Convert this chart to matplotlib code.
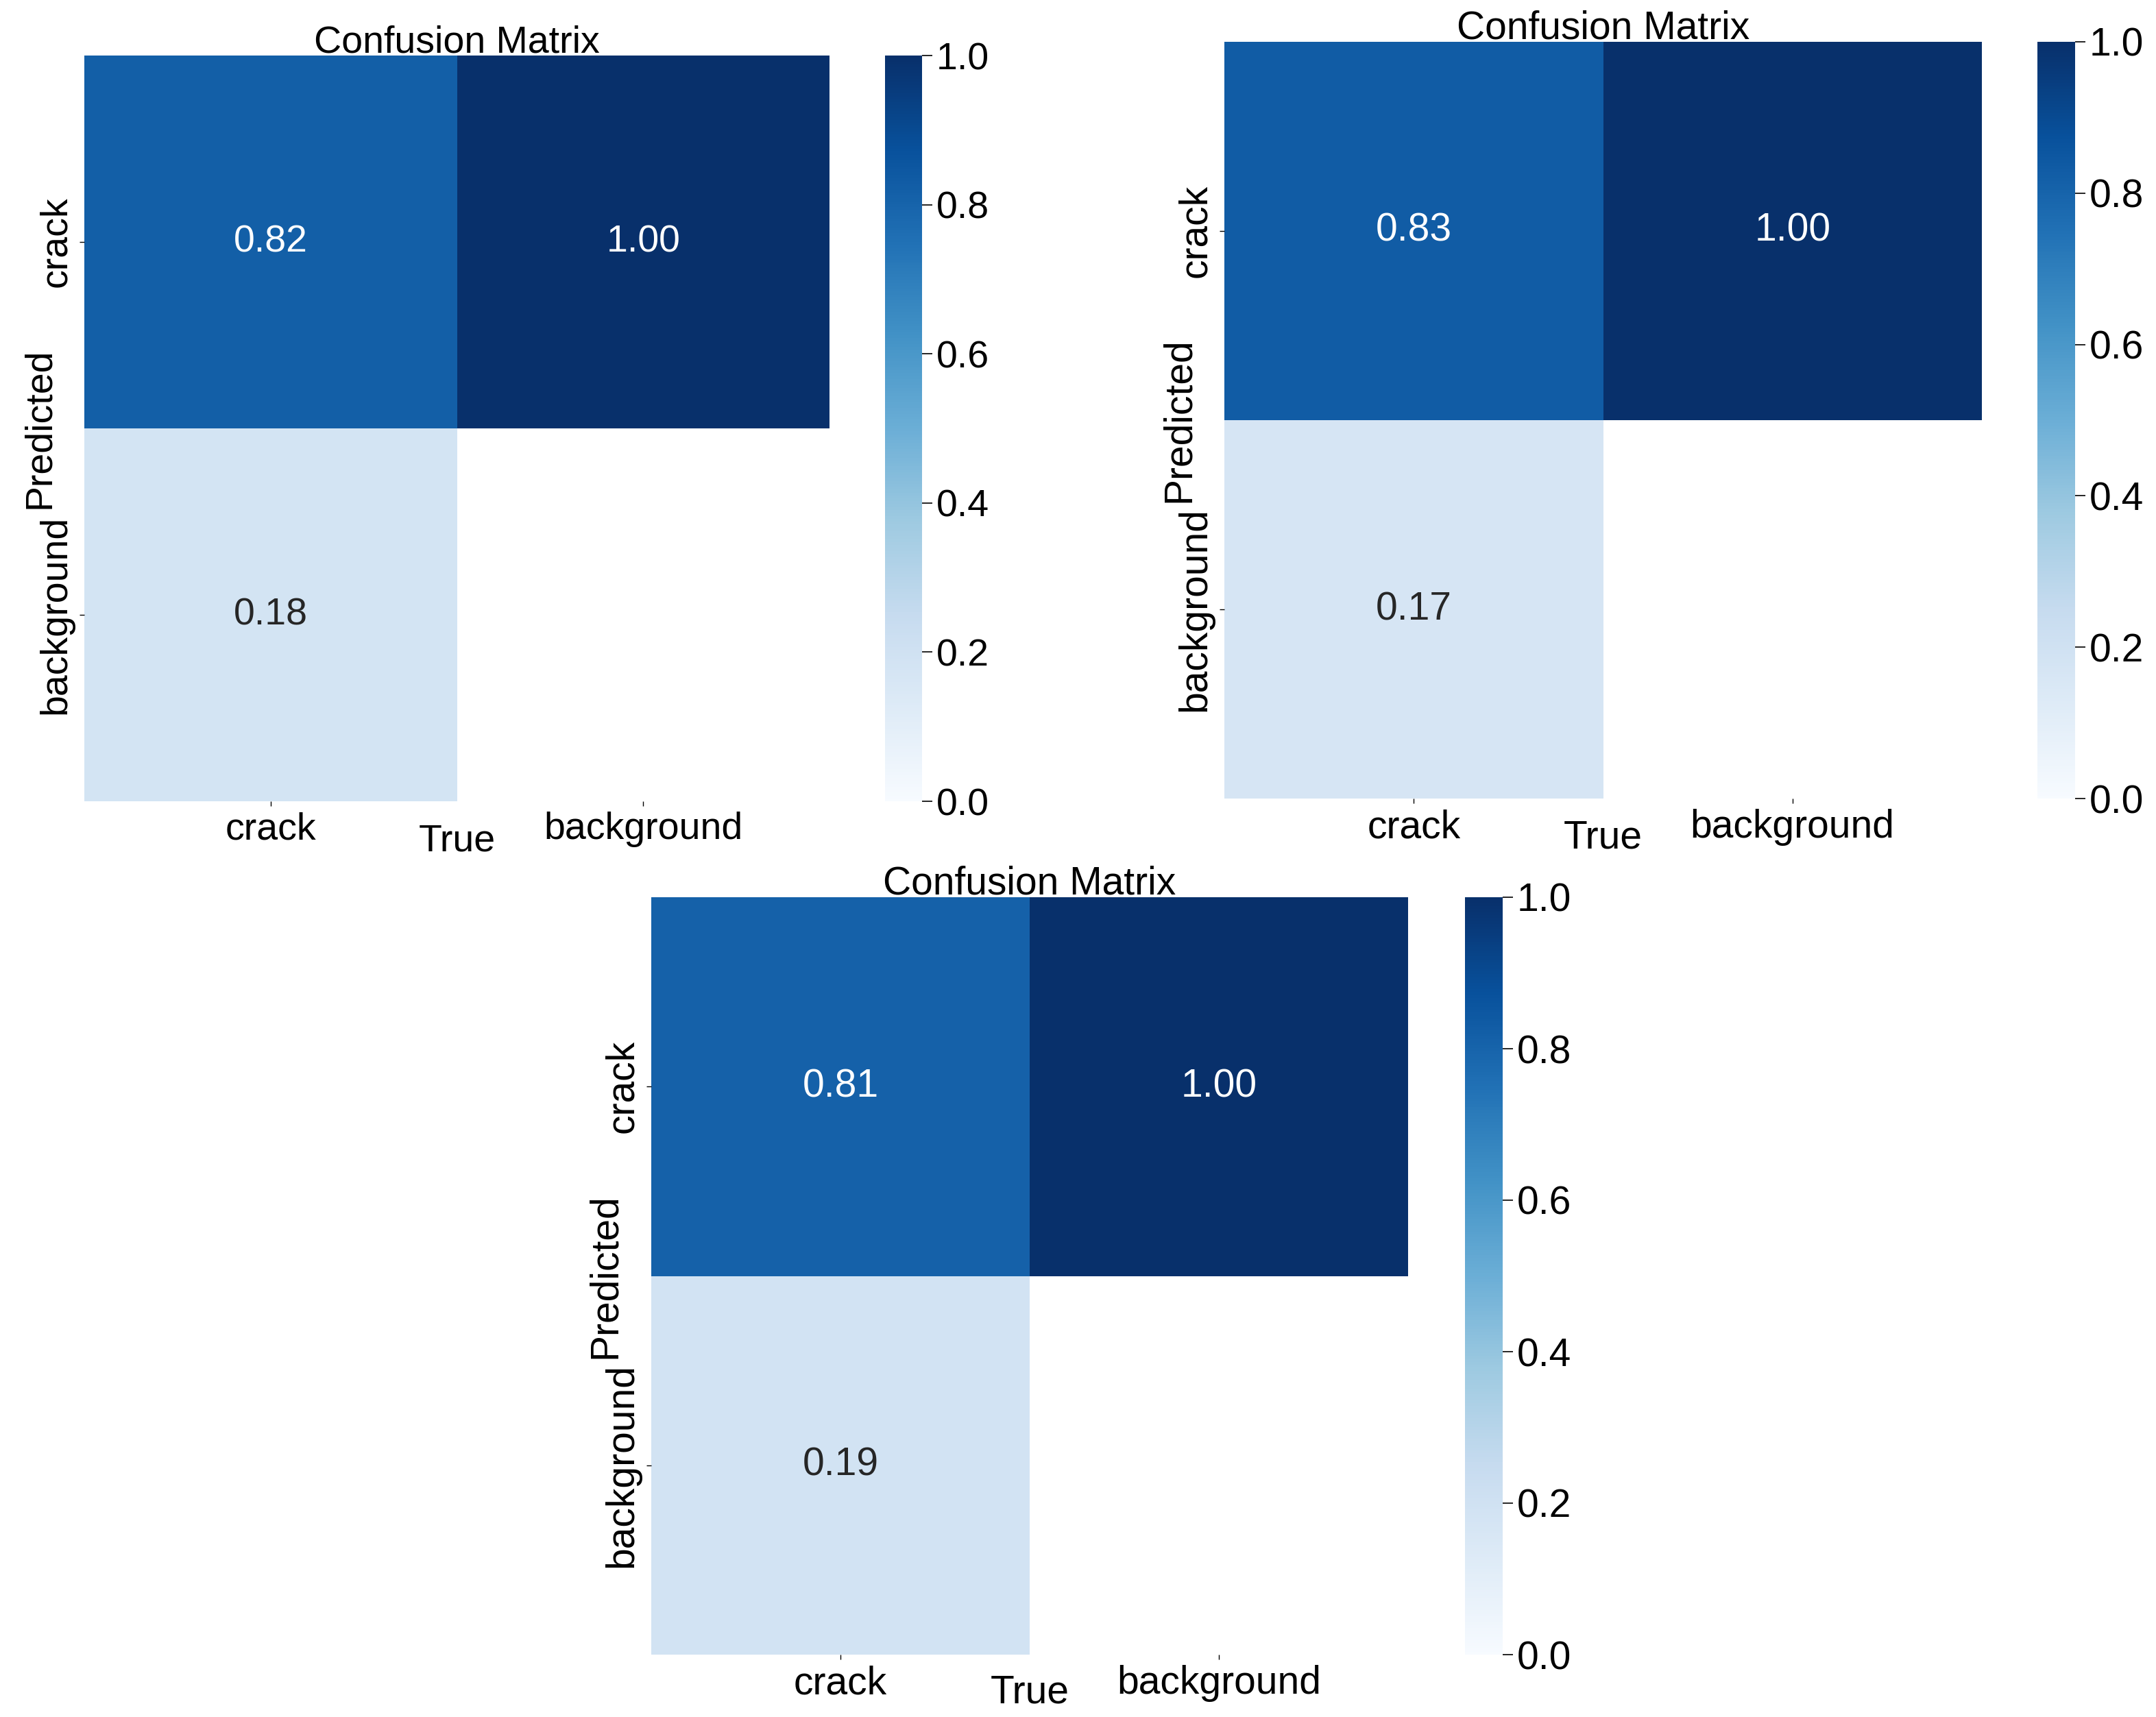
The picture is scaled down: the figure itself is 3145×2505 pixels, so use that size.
import numpy as np
import matplotlib
matplotlib.use("Agg")
import matplotlib.pyplot as plt
import seaborn as sns

# class names and normalised confusion matrices (rows = predicted, cols = true)
classes = ["crack", "background"]
cm_a = [[0.82, 1.00],
        [0.18, 0.00]]
cm_b = [[0.83, 1.00],
        [0.17, 0.00]]
cm_c = [[0.81, 1.00],
        [0.19, 0.00]]
cbar_ticks = [0.0, 0.2, 0.4, 0.6, 0.8, 1.0]

W, H = 3145, 2505
fig = plt.figure(figsize=(W / 100, H / 100), dpi=100)
plt.rcParams['font.family'] = ['Liberation Sans', 'DejaVu Sans']


def box(x0, y0, x1, y1):
    # pixel box -> figure fraction
    return [x0 / W, 1 - y1 / H, (x1 - x0) / W, (y1 - y0) / H]


def draw(cm, hm_box, cb_box, fs, cbfs, xl_y, yl_x):
    arr = np.array(cm, dtype=float)
    arr[arr < 0.005] = np.nan
    ax = fig.add_axes(box(*hm_box))
    cax = fig.add_axes(box(*cb_box))
    sns.heatmap(arr, ax=ax, cbar_ax=cax, annot=True, fmt=".2f", cmap="Blues",
                vmin=0.0, vmax=1.0, xticklabels=classes, yticklabels=classes,
                annot_kws={"size": fs})
    ax.set_facecolor((1, 1, 1))
    # explicit y so the title sits right on the top edge like the original
    ax.set_title("Confusion Matrix", fontsize=fs, y=1.0, pad=3.5)
    ax.set_xlabel("True", fontsize=fs)
    ax.set_ylabel("Predicted", fontsize=fs)
    ax.xaxis.set_label_coords(0.5, xl_y)
    ax.yaxis.set_label_coords(yl_x, 0.5)
    ax.tick_params(length=5, width=1, labelsize=fs, pad=6)
    plt.setp(ax.get_yticklabels(), rotation=90, va="center")
    cax.set_yticks(cbar_ticks)
    cax.set_yticklabels([f"{v:.1f}" for v in cbar_ticks])
    cax.tick_params(length=11, width=1.2, labelsize=cbfs, pad=4)


draw(cm_a, (123, 81, 1210, 1169), (1291, 81, 1345, 1169), 40, 40, -0.030, -0.036)
draw(cm_b, (1786, 61, 2891, 1165), (2972, 61, 3027, 1165), 41, 41, -0.028, -0.035)
draw(cm_c, (950, 1309, 2054, 2414), (2137, 1309, 2192, 2414), 41, 41, -0.026, -0.036)

fig.savefig("out.png", dpi=100)
